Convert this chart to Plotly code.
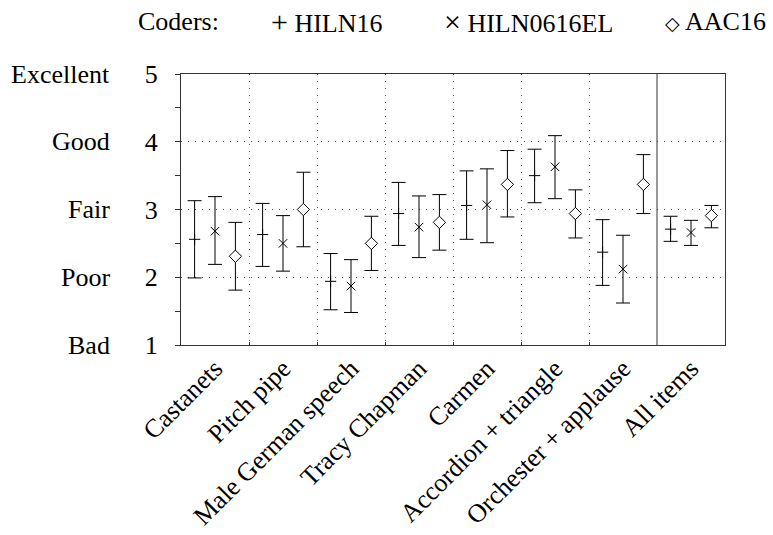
import plotly.graph_objects as go

# Listening-test items
items = ["Castanets", "Pitch pipe", "Male German speech", "Tracy Chapman",
         "Carmen", "Accordion + triangle", "Orchester + applause", "All items"]

# Mean scores and 95% confidence bounds per coder
hiln16_mean = [2.56, 2.63, 1.94, 2.94, 3.06, 3.50, 2.37, 2.71]
hiln16_low = [1.99, 2.16, 1.52, 2.47, 2.56, 3.10, 1.88, 2.53]
hiln16_high = [3.13, 3.09, 2.35, 3.40, 3.57, 3.89, 2.85, 2.90]

hiln0616el_mean = [2.68, 2.50, 1.87, 2.74, 3.07, 3.63, 2.12, 2.66]
hiln0616el_low = [2.19, 2.09, 1.48, 2.29, 2.51, 3.16, 1.62, 2.47]
hiln0616el_high = [3.19, 2.91, 2.26, 3.20, 3.60, 4.09, 2.62, 2.84]

aac16_mean = [2.31, 3.00, 2.50, 2.81, 3.37, 2.94, 3.37, 2.91]
aac16_low = [1.81, 2.45, 2.10, 2.40, 2.89, 2.58, 2.94, 2.73]
aac16_high = [2.81, 3.55, 2.90, 3.22, 3.87, 3.29, 3.81, 3.06]

grade_values = [1, 2, 3, 4, 5]
grade_words = ["Bad", "Poor", "Fair", "Good", "Excellent"]

FONT = "Liberation Serif"
FS = 26

n = len(items)
centers = [i + 0.5 for i in range(n)]

coders = [
    ("HILN16", hiln16_mean, hiln16_low, hiln16_high, -0.3,
     dict(symbol="cross-thin", size=8, color="black", line=dict(width=1, color="black"))),
    ("HILN0616EL", hiln0616el_mean, hiln0616el_low, hiln0616el_high, 0.0,
     dict(symbol="x-thin", size=8.5, color="black", line=dict(width=1, color="black"))),
    ("AAC16", aac16_mean, aac16_low, aac16_high, 0.3,
     dict(symbol="diamond", size=9.5, color="white", line=dict(width=1, color="black"))),
]

fig = go.Figure()
for name, mean, low, high, off, marker in coders:
    fig.add_trace(go.Scatter(
        x=[c + off for c in centers],
        y=mean,
        mode="markers",
        name=name,
        marker=marker,
        error_y=dict(
            type="data", symmetric=False,
            array=[h - m for h, m in zip(high, mean)],
            arrayminus=[m - l for m, l in zip(mean, low)],
            color="black", thickness=1, width=7,
        ),
        showlegend=False,
    ))

# Separator between the individual items and the overall average
fig.add_shape(type="line", xref="x", yref="paper", x0=n - 1, x1=n - 1, y0=0, y1=1,
              line=dict(color="#333", width=1))

# Verbal grade names beside the numeric axis
for v, w in zip(grade_values, grade_words):
    fig.add_annotation(text=w, xref="paper", yref="y", x=0, y=v, xanchor="right",
                       yanchor="middle", xshift=-69, showarrow=False,
                       font=dict(family=FONT, size=FS, color="black"))

# Legend row (symbols sized like math glyphs)
legend_entries = [("Coders:", -0.004),
                  ("<span style='font-size:30px'>+</span> HILN16", 0.2675),
                  ("<span style='font-size:30px'>\u00d7</span> HILN0616EL", 0.638),
                  ("<span style='font-size:19px'>\u25c7</span> AAC16", 0.9825)]
for txt, xp in legend_entries:
    fig.add_annotation(text=txt, xref="paper", yref="paper", x=xp, y=1.192,
                       xanchor="center", yanchor="middle", showarrow=False,
                       font=dict(family=FONT, size=FS, color="black"))

fig.update_layout(
    width=773, height=535,
    margin=dict(l=181, r=48, t=74, b=190),
    paper_bgcolor="white", plot_bgcolor="white",
    font=dict(family=FONT, size=FS, color="black"),
    xaxis=dict(
        range=[0, n], tickmode="array", tickvals=centers, ticktext=items,
        tickangle=-45, ticks="", showgrid=False, zeroline=False, automargin=False,
        ticklabelstandoff=-3,
        showline=True, linecolor="#333", linewidth=1, mirror=True,
        minor=dict(tickmode="array", tickvals=list(range(1, n - 1)),
                   ticks="inside", ticklen=3, tickcolor="#333",
                   showgrid=True, gridcolor="#555", gridwidth=1, griddash="1px,6px"),
    ),
    yaxis=dict(
        range=[1, 5], tickmode="array", tickvals=grade_values,
        ticktext=[str(v) for v in grade_values], automargin=False,
        ticks="outside", ticklen=5, tickcolor="#333", ticklabelstandoff=12,
        showgrid=True, gridcolor="#555", gridwidth=1, griddash="1px,6px",
        zeroline=False, showline=True, linecolor="#333", linewidth=1, mirror=True,
        minor=dict(tickmode="array", tickvals=[1.5, 2.5, 3.5, 4.5],
                   ticks="outside", ticklen=5, tickcolor="#333", showgrid=False),
    ),
)

fig.write_html("out.html")
